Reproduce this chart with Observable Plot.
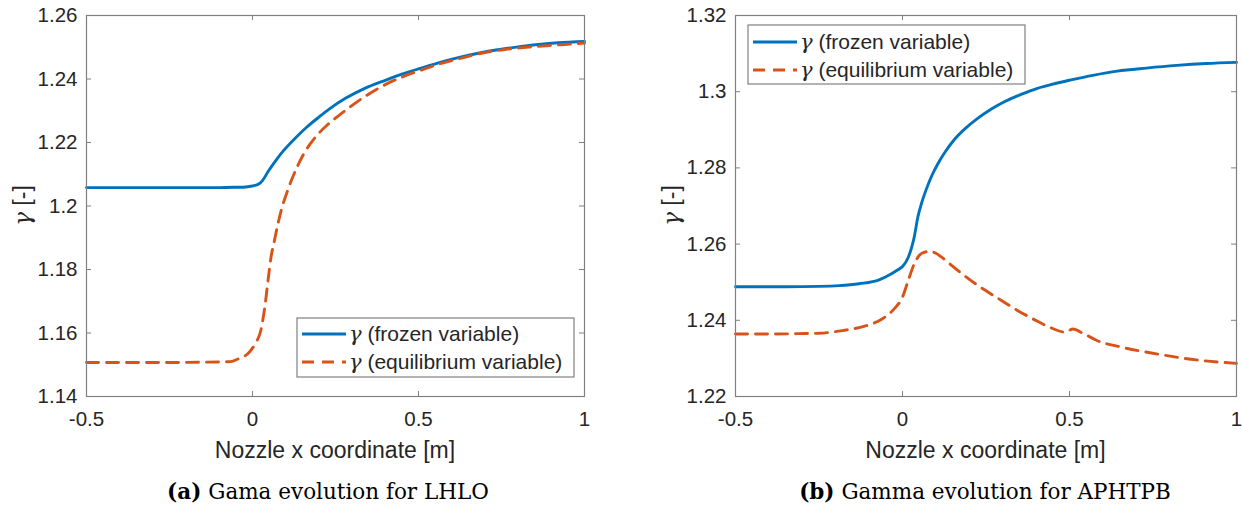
<!DOCTYPE html>
<html>
<head>
<meta charset="utf-8">
<script src="https://cdn.jsdelivr.net/npm/d3@7"></script>
<script src="https://cdn.jsdelivr.net/npm/@observablehq/plot@0.6"></script>
<style>
  html, body { margin: 0; padding: 0; background: #fff; }
  #wrap { position: relative; width: 1242px; height: 514px; overflow: hidden; }
  .panel { position: absolute; top: 0; }
  .caption { position: absolute; top: 479px; font-family: "DejaVu Serif", serif; font-size: 21.5px; color: #000; white-space: nowrap; transform: translateX(-50%); }
  .caption b { font-weight: bold; }
</style>
</head>
<body>
<div id="wrap"></div>
<script>
// ---------- Data ----------
// Panel (a): LHLO
const xA_frozen = [-0.5, -0.3, -0.1, -0.05, -0.02, 0, 0.02, 0.03, 0.048, 0.07, 0.094, 0.13, 0.163, 0.2, 0.232, 0.28, 0.335, 0.4, 0.45, 0.5, 0.56, 0.623, 0.68, 0.738, 0.8, 0.853, 0.92, 1.0];
const yA_frozen = [1.2058, 1.2058, 1.2058, 1.2059, 1.2060, 1.2063, 1.2070, 1.2080, 1.2110, 1.2143, 1.2175, 1.2215, 1.2248, 1.2280, 1.2306, 1.2339, 1.2369, 1.2396, 1.2415, 1.2432, 1.2451, 1.2468, 1.2481, 1.2492, 1.2501, 1.2508, 1.2514, 1.2518];
const xA_equil = [-0.5, -0.3, -0.15, -0.066, -0.044, -0.015, 0.008, 0.025, 0.037, 0.048, 0.056, 0.066, 0.078, 0.089, 0.103, 0.117, 0.135, 0.152, 0.175, 0.198, 0.225, 0.255, 0.295, 0.336, 0.39, 0.45, 0.5, 0.565, 0.62, 0.68, 0.76, 0.853, 0.93, 1.0];
const yA_equil = [1.1507, 1.1507, 1.1508, 1.1510, 1.1518, 1.1534, 1.1566, 1.1608, 1.1681, 1.1776, 1.1840, 1.1891, 1.1950, 1.1996, 1.2040, 1.2080, 1.2124, 1.2160, 1.2197, 1.2227, 1.2255, 1.2281, 1.2313, 1.2343, 1.2377, 1.2406, 1.2425, 1.2448, 1.2463, 1.2479, 1.2493, 1.2502, 1.2508, 1.2513];

// Panel (b): APHTPB
const xB_frozen = [-0.5, -0.35, -0.25, -0.19, -0.13, -0.07, -0.037, -0.015, 0, 0.017, 0.027, 0.035, 0.046, 0.058, 0.07, 0.088, 0.106, 0.13, 0.153, 0.19, 0.225, 0.265, 0.308, 0.355, 0.404, 0.45, 0.5, 0.57, 0.643, 0.73, 0.821, 0.91, 1.0];
const yB_frozen = [1.2488, 1.2488, 1.2489, 1.2491, 1.2496, 1.2506, 1.2520, 1.2532, 1.2541, 1.2565, 1.2590, 1.2618, 1.2671, 1.2710, 1.2741, 1.2780, 1.2811, 1.2845, 1.2872, 1.2905, 1.2930, 1.2954, 1.2975, 1.2993, 1.3009, 1.3020, 1.3030, 1.3043, 1.3054, 1.3062, 1.3069, 1.3074, 1.3077];
const xB_equil = [-0.5, -0.4, -0.31, -0.25, -0.18, -0.108, -0.06, -0.025, 0, 0.017, 0.035, 0.058, 0.082, 0.1, 0.118, 0.15, 0.178, 0.215, 0.249, 0.3, 0.344, 0.39, 0.44, 0.487, 0.51, 0.54, 0.582, 0.653, 0.76, 0.879, 1.0];
const yB_equil = [1.2364, 1.2364, 1.2365, 1.2366, 1.2373, 1.2386, 1.2404, 1.2430, 1.2461, 1.2504, 1.2548, 1.2576, 1.2581, 1.2576, 1.2565, 1.2542, 1.2522, 1.2498, 1.2478, 1.2450, 1.2426, 1.2404, 1.2382, 1.2369, 1.2377, 1.2366, 1.2347, 1.2330, 1.2312, 1.2296, 1.2287];

// Ticks and labels
const xTicks = [-0.5, 0, 0.5, 1];
const xTickLabels = ["-0.5", "0", "0.5", "1"];
const yTicksA = [1.14, 1.16, 1.18, 1.2, 1.22, 1.24, 1.26];
const yTickLabelsA = ["1.14", "1.16", "1.18", "1.2", "1.22", "1.24", "1.26"];
const yTicksB = [1.22, 1.24, 1.26, 1.28, 1.3, 1.32];
const yTickLabelsB = ["1.22", "1.24", "1.26", "1.28", "1.3", "1.32"];

const xLabel = "Nozzle x coordinate [m]";
const seriesNames = ["(frozen variable)", "(equilibrium variable)"];
const captions = [["(a)", "Gama evolution for LHLO"], ["(b)", "Gamma evolution for APHTPB"]];

// ---------- Styles ----------
const BLUE = "#0072BD", ORANGE = "#D95319";
const AXIS = "#262626", FRAME = "#808080";
const FONT = "'Liberation Sans', Arial, sans-serif";

function zip(xs, ys) { return xs.map((x, i) => ({x, y: ys[i]})); }

function panel(cfg) {
  const W = 621, H = 470;
  const {ml, mr, mt, mb} = cfg;
  const pw = W - ml - mr, ph = H - mt - mb;
  const tl = 5;
  const fmtX = d => xTickLabels[xTicks.indexOf(d)];
  const fmtY = d => cfg.yLabels[cfg.yTicks.indexOf(d)];
  const svg = Plot.plot({
    width: W, height: H,
    marginLeft: ml, marginRight: mr, marginTop: mt, marginBottom: mb,
    style: {fontFamily: FONT, background: "white", overflow: "visible"},
    x: {domain: [-0.5, 1], ticks: xTicks},
    y: {domain: cfg.yDomain, ticks: cfg.yTicks},
    marks: [
      // inward ticks (MATLAB style, on all four sides)
      Plot.ruleX(xTicks, {x: d => d, stroke: FRAME, strokeWidth: 1, insetTop: ph - tl}),
      Plot.ruleX(xTicks, {x: d => d, stroke: FRAME, strokeWidth: 1, insetBottom: ph - tl}),
      Plot.ruleY(cfg.yTicks, {y: d => d, stroke: FRAME, strokeWidth: 1, insetRight: pw - tl}),
      Plot.ruleY(cfg.yTicks, {y: d => d, stroke: FRAME, strokeWidth: 1, insetLeft: pw - tl}),
      Plot.lineY(zip(cfg.xf, cfg.yf), {x: "x", y: "y", stroke: BLUE, strokeWidth: 2.9, curve: "monotone-x"}),
      Plot.lineY(zip(cfg.xe, cfg.ye), {x: "x", y: "y", stroke: ORANGE, strokeWidth: 2.9, strokeDasharray: "12,8", curve: "monotone-x"}),
      Plot.frame({stroke: FRAME, strokeWidth: 1.2}),
      Plot.axisX(xTicks, {tickSize: 0, tickPadding: 15, tickFormat: fmtX, fontSize: 20.5, color: AXIS, label: null}),
      Plot.axisY(cfg.yTicks, {tickSize: 0, tickPadding: 9, tickFormat: fmtY, fontSize: 20.5, color: AXIS, label: null}),
    ]
  });
  const s = d3.select(svg);
  // x label
  s.append("text").attr("x", ml + pw / 2).attr("y", mt + ph + 62)
    .attr("text-anchor", "middle").attr("font-family", FONT).attr("font-size", 23)
    .attr("fill", AXIS).text(xLabel);
  // y label
  const yl = s.append("text").attr("transform", `translate(${cfg.ylx},${mt + ph / 2}) rotate(-90)`)
    .attr("text-anchor", "middle").attr("font-family", FONT).attr("font-size", 23).attr("fill", AXIS);
  yl.append("tspan").attr("font-family", "'DejaVu Serif', serif").attr("font-style", "italic").text("γ");
  yl.append("tspan").text(" [-]");
  // legend
  const L = cfg.legend;
  const g = s.append("g").attr("text-anchor", "start");
  g.append("rect").attr("x", L.x).attr("y", L.y).attr("width", L.w).attr("height", L.h)
    .attr("fill", "white").attr("stroke", FRAME).attr("stroke-width", 1.2);
  [[BLUE, null, seriesNames[0]], [ORANGE, "12,8", seriesNames[1]]].forEach(([c, dash, name], i) => {
    const yy = L.y + L.r0 + i * L.dr;
    const ln = g.append("line").attr("x1", L.x + 5).attr("x2", L.x + 49).attr("y1", yy).attr("y2", yy)
      .attr("stroke", c).attr("stroke-width", 2.9);
    if (dash) ln.attr("stroke-dasharray", dash);
    const t = g.append("text").attr("x", L.x + 52).attr("y", yy).attr("dy", "0.35em")
      .attr("text-anchor", "start")
      .attr("font-family", FONT).attr("font-size", 21).attr("fill", AXIS);
    t.append("tspan").attr("font-family", "'DejaVu Serif', serif").attr("font-style", "italic").text("γ");
    t.append("tspan").text(" " + name);
  });
  return svg;
}

const wrap = document.getElementById("wrap");
const left = document.createElement("div"); left.className = "panel"; left.style.left = "0px";
left.appendChild(panel({
  ml: 86, mr: 37, mt: 15, mb: 74,
  yDomain: [1.14, 1.26], yTicks: yTicksA, yLabels: yTickLabelsA,
  xf: xA_frozen, yf: yA_frozen, xe: xA_equil, ye: yA_equil,
  ylx: 30,
  legend: {x: 297, y: 318, w: 277, h: 59, r0: 16, dr: 28}
}));
const right = document.createElement("div"); right.className = "panel"; right.style.left = "621px";
right.appendChild(panel({
  ml: 114, mr: 6, mt: 15, mb: 74,
  yDomain: [1.22, 1.32], yTicks: yTicksB, yLabels: yTickLabelsB,
  xf: xB_frozen, yf: yB_frozen, xe: xB_equil, ye: yB_equil,
  ylx: 58,
  legend: {x: 748 - 621, y: 25, w: 277, h: 59, r0: 17, dr: 28}
}));
wrap.appendChild(left); wrap.appendChild(right);

captions.forEach(([tag, text], i) => {
  const c = document.createElement("div");
  c.className = "caption";
  c.style.left = (i === 0 ? 328 : 985) + "px";
  c.innerHTML = `<b>${tag}</b> ${text}`;
  wrap.appendChild(c);
});
</script>
</body>
</html>
